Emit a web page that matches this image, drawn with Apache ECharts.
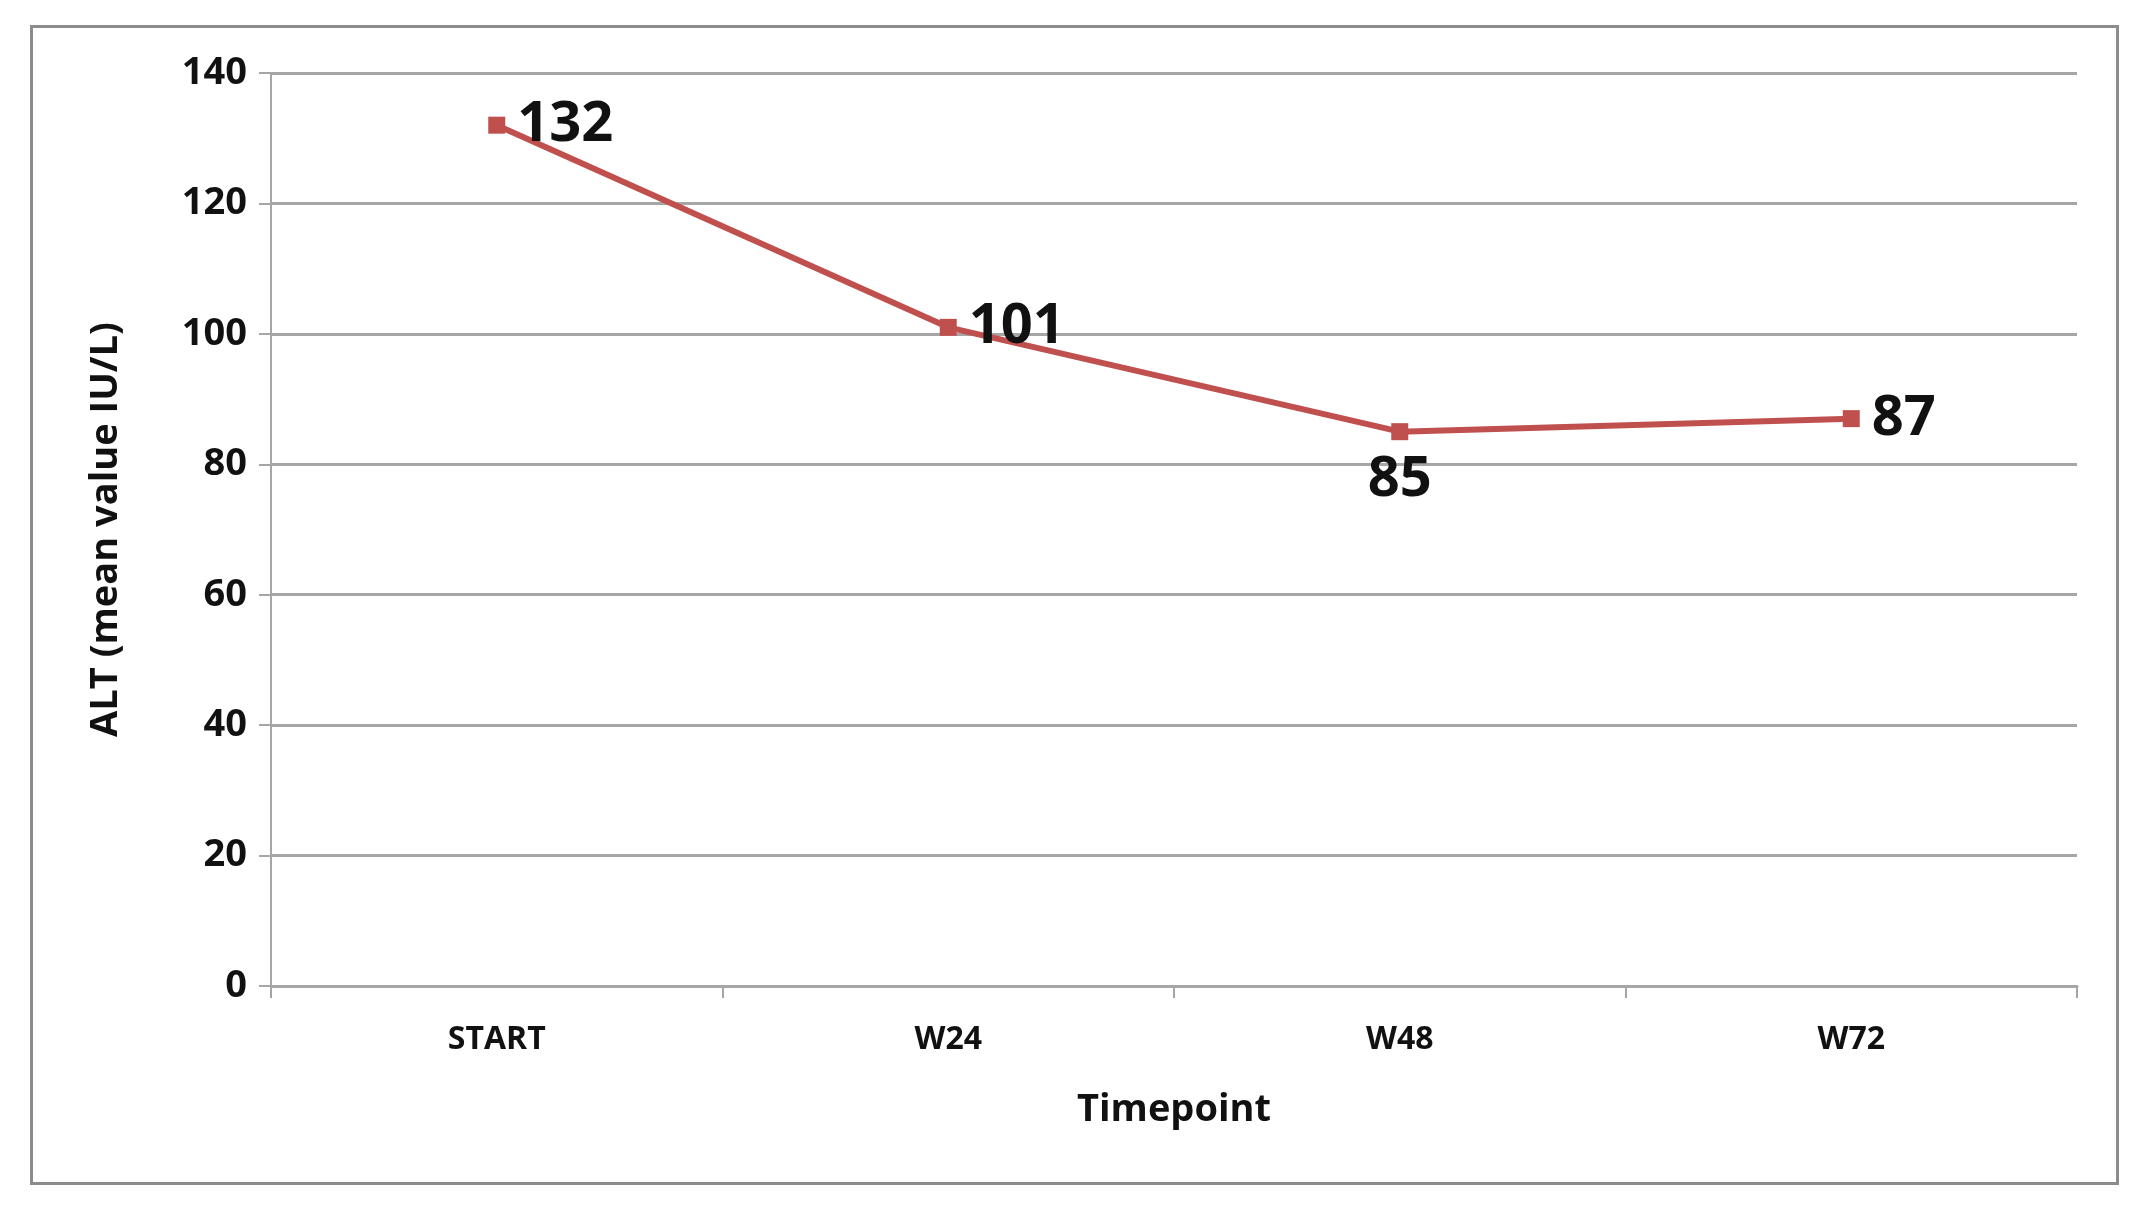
<!DOCTYPE html>
<html>
<head>
<meta charset="utf-8">
<script src="https://cdn.jsdelivr.net/npm/echarts@6/dist/echarts.min.js"></script>
<style>
html, body { margin: 0; padding: 0; background: #fff; }
#frame { position: absolute; left: 30px; top: 25px; width: 2089px; height: 1160px; border: 3px solid #8c8c8c; box-sizing: border-box; }
#chart { position: absolute; left: 0; top: 0; width: 2139px; height: 1214px; }
</style>
</head>
<body>
<div id="frame"></div>
<div id="chart"></div>
<script>
const categories = ['START', 'W24', 'W48', 'W72'];
const altValues = [132, 101, 85, 87];
const labelPositions = ['right', 'right', 'bottom', 'right'];
const yTicks = [0, 20, 40, 60, 80, 100, 120, 140];

const font = "'Liberation Sans Narrow', 'Open Sans', sans-serif";
const chart = echarts.init(document.getElementById('chart'));
chart.setOption({
    animation: false,
    grid: { left: 271, right: 2139 - 2077, top: 73, bottom: 1214 - 986 },
    xAxis: {
        type: 'category',
        data: categories,
        boundaryGap: true,
        name: 'Timepoint',
        nameLocation: 'middle',
        nameGap: 105,
        nameTextStyle: { fontFamily: font, fontSize: 38, fontWeight: 'bold', color: '#111' },
        axisLine: { lineStyle: { color: '#a6a6a6', width: 3 } },
        axisTick: { show: true, length: 12, lineStyle: { color: '#a6a6a6', width: 2 } },
        axisLabel: { fontFamily: font, fontSize: 32, fontWeight: 'bold', color: '#111', margin: 38 }
    },
    yAxis: {
        type: 'value',
        min: yTicks[0],
        max: yTicks[yTicks.length - 1],
        interval: 20,
        name: 'ALT (mean value IU/L)',
        nameLocation: 'middle',
        nameGap: 146,
        nameTextStyle: { fontFamily: font, fontSize: 38, fontWeight: 'bold', color: '#111' },
        axisLine: { show: true, lineStyle: { color: '#a6a6a6', width: 2 } },
        axisTick: { show: true, length: 12, lineStyle: { color: '#a6a6a6', width: 2 } },
        axisLabel: { fontFamily: font, fontSize: 38, fontWeight: 'bold', color: '#111', margin: 24 },
        splitLine: { lineStyle: { color: '#a6a6a6', width: 3 } }
    },
    series: [{
        type: 'line',
        data: altValues.map((v, i) => ({ value: v, label: { position: labelPositions[i] } })),
        symbol: 'rect',
        symbolSize: 17,
        lineStyle: { color: '#c0504d', width: 6 },
        itemStyle: { color: '#c0504d' },
        label: {
            show: true,
            fontFamily: font,
            fontSize: 56,
            fontWeight: 'bold',
            color: '#111',
            distance: 12
        }
    }]
});
</script>
</body>
</html>
